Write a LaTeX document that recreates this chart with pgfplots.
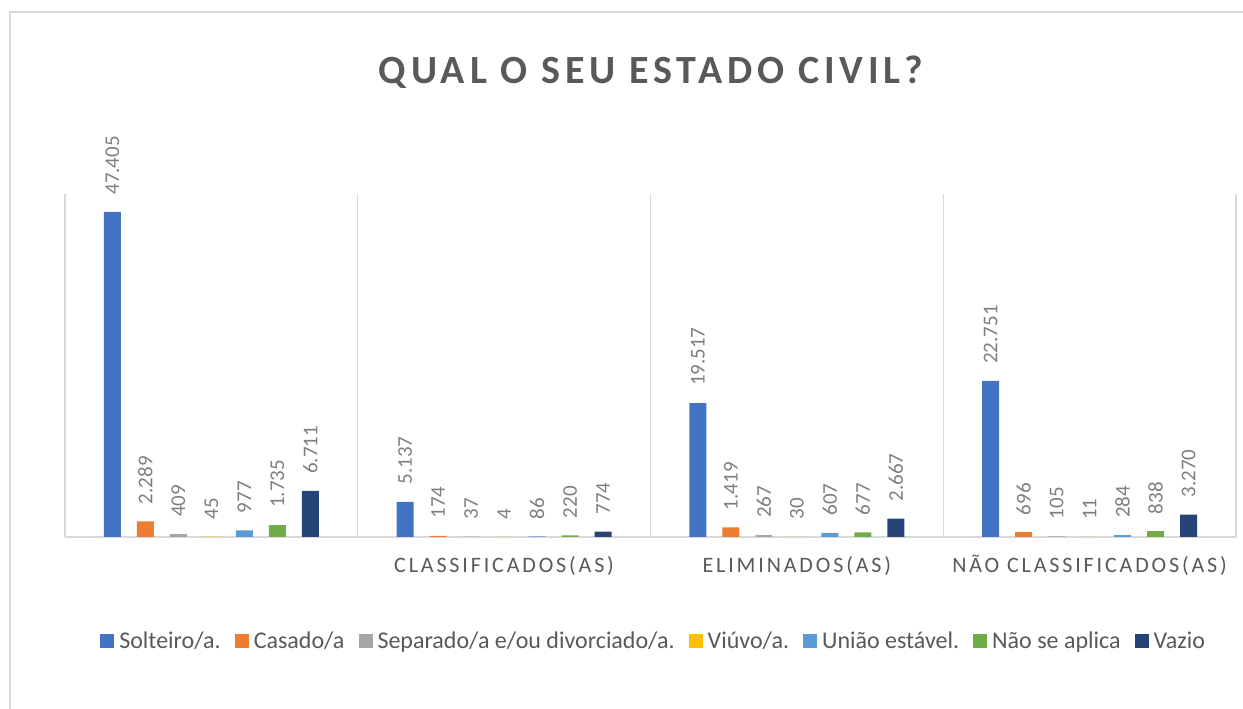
\documentclass[border=0pt]{standalone}
\usepackage{fontspec}
\setmainfont{Carlito}
\newfontfamily\titlefont[LetterSpace=12]{Carlito}
\newfontfamily\spacedfont[LetterSpace=13]{Carlito}
\usepackage{pgfplots}
\pgfplotsset{compat=1.18}
\definecolor{cSolt}{HTML}{4472C4}
\definecolor{cCas}{HTML}{ED7D31}
\definecolor{cSep}{HTML}{A5A5A5}
\definecolor{cViu}{HTML}{FFC000}
\definecolor{cUni}{HTML}{5B9BD5}
\definecolor{cNao}{HTML}{70AD47}
\definecolor{cVaz}{HTML}{264478}
\definecolor{txtgray}{HTML}{595959}
\definecolor{lblgray}{HTML}{7F7F7F}
\definecolor{linegray}{HTML}{D9D9D9}

\begin{document}
\begin{tikzpicture}
\useasboundingbox (0,0) rectangle (1243pt,709pt);
\draw[linegray, line width=2pt] (10pt,-20pt) rectangle (1280pt,697pt);
\node[font=\titlefont\bfseries\fontsize{40}{46}\selectfont, text=txtgray] at (651pt,637pt) {QUAL O SEU ESTADO CIVIL?};

\pgfkeys{/pgf/number format/.cd, fixed, precision=0, 1000 sep={.}, assume math mode=true}
\begin{axis}[
    scale only axis,
    width=1171pt, height=343pt,
    at={(65pt,172pt)}, anchor=south west,
    ybar=16pt, bar width=17pt,
    xmin=-0.5, xmax=3.5, ymin=0, ymax=50000,
    axis x line*=bottom, axis y line=none,
    x axis line style={linegray, line width=1.3pt},
    xtick={0,1,2,3},
    xticklabels={,CLASSIFICADOS(AS),ELIMINADOS(AS),NÃO CLASSIFICADOS(AS)},
    major tick length=0pt, minor tick length=0pt,
    minor xtick={-0.5,0.5,1.5,2.5,3.5},
    xminorgrids,
    minor grid style={linegray, line width=1.3pt},
    ytick=\empty,
    xticklabel style={font=\spacedfont\fontsize{22}{26}\selectfont, text=txtgray, anchor=base, yshift=-36pt},
    nodes near coords,
    nodes near coords style={font=\fontsize{21}{25}\selectfont, text=lblgray, rotate=90, anchor=west, inner sep=0pt, inner xsep=17pt},
    legend columns=7,
    legend image code/.code={\fill[#1] (0pt,-7pt) rectangle (14pt,7pt);},
    legend style={at={(0.504,-0.303)}, anchor=center, draw=none,
        font=\fontsize{24}{28}\selectfont, text=txtgray,
        nodes={inner xsep=5pt},
        /tikz/every even column/.append style={column sep=9pt}},
    every axis plot/.append style={draw=none},
]
\addplot[fill=cSolt] coordinates {(0,47405) (1,5137) (2,19517) (3,22751)};
\addplot[fill=cCas] coordinates {(0,2289) (1,174) (2,1419) (3,696)};
\addplot[fill=cSep] coordinates {(0,409) (1,37) (2,267) (3,105)};
\addplot[fill=cViu] coordinates {(0,45) (1,4) (2,30) (3,11)};
\addplot[fill=cUni] coordinates {(0,977) (1,86) (2,607) (3,284)};
\addplot[fill=cNao] coordinates {(0,1735) (1,220) (2,677) (3,838)};
\addplot[fill=cVaz] coordinates {(0,6711) (1,774) (2,2667) (3,3270)};
\legend{Solteiro/a.,Casado/a,Separado/a e/ou divorciado/a.,Viúvo/a.,União estável.,Não se aplica,Vazio}
\end{axis}
\end{tikzpicture}
\end{document}
